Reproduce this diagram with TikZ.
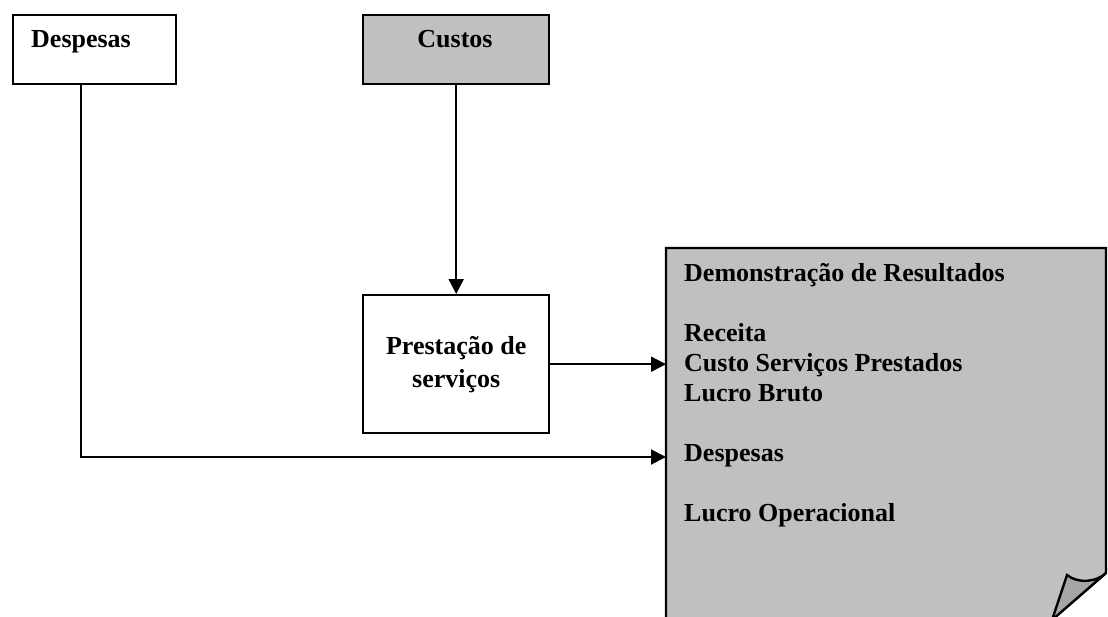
\documentclass[tikz,border=0pt]{standalone}
\usepackage{fontspec}
\setmainfont{Liberation Serif}
\usetikzlibrary{arrows.meta}
\definecolor{sheet}{HTML}{C0C0C0}
\definecolor{curl}{HTML}{A6A6A6}
\begin{document}
\begin{tikzpicture}[x=1pt,y=-1pt,
  box/.style={draw, line width=2.4pt, rectangle, inner sep=0pt, anchor=north west},
  lbl/.style={font=\fontsize{26}{30}\selectfont\bfseries, inner sep=0pt},
  link/.style={line width=2pt},
  arr/.style={link, -{Triangle[length=15pt,width=15pt]}},
  outline/.style={line width=2.4pt, line join=miter}
]
\useasboundingbox (0,0) rectangle (1108,616);
\fill[white] (0,0) rectangle (1108,616);
\clip (0,0) rectangle (1108,616);

% source boxes
\node[box, minimum width=163pt, minimum height=69pt] (desp) at (12,14) {};
\node[lbl, anchor=base west] (desptxt) at (31,47) {Despesas};
\node[box, fill=sheet, minimum width=186pt, minimum height=69pt] (cust) at (362,14) {};
\node[lbl, anchor=base] (custxt) at (455,47) {Custos};

% service box
\node[box, minimum width=186pt, minimum height=138pt] (prest) at (362,294) {};
\node[lbl, font=\fontsize{26}{33}\selectfont\bfseries, align=center] (presttxt) at (prest.center) {Prestação de\\serviços};

% income statement sheet with curled corner
\node[anchor=north west, minimum width=440pt, minimum height=380pt, inner sep=0pt, outer sep=0pt] (doc) at (666,248) {};
\fill[sheet] (666,640) -- (666,248) -- (1106,248) -- (1106,573) -- (1028,640) -- cycle;
\draw[outline] (666,640) -- (666,248) -- (1106,248) -- (1106,573) -- (1028,640);
\filldraw[outline, fill=curl] (1067,575) .. controls (1078,584) and (1097,582) .. (1106,573)
  -- (1052,620) -- cycle;

\foreach \t/\yb [count=\i] in {Demonstração de Resultados/281, Receita/341,
    Custo Serviços Prestados/371, Lucro Bruto/401, Despesas/461, Lucro Operacional/521}
  \node[lbl, anchor=base west] (dr\i) at (684,\yb) {\t};

% connectors
\coordinate (bend) at (81,457);
\draw[arr] (cust.south) -- (prest.north);
\draw[arr] (prest.east) -- (prest.east -| doc.west);
\draw[arr] (desp.south -| bend) -- (bend) -- (bend -| doc.west);
\end{tikzpicture}
\end{document}
